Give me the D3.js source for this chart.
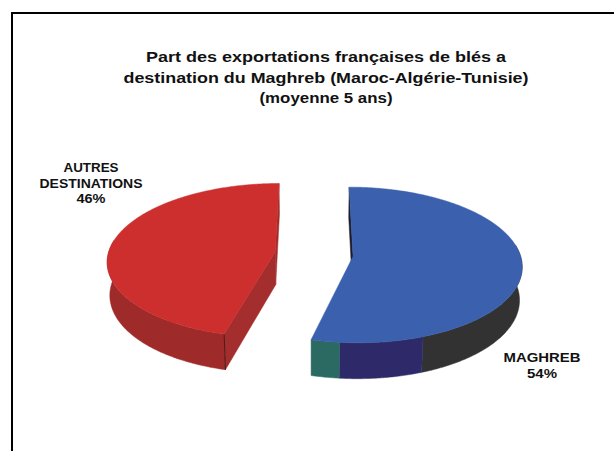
<!DOCTYPE html>
<html lang="fr">
    <head>
        <meta charset="utf-8">
        <title>Part des exportations françaises de blés</title>
        <script type="text/javascript" src="https://cdn.jsdelivr.net/npm/d3@7"></script>
        <style type="text/css">
            body { margin: 0; background: #fff; }
            svg { display: block; }
        </style>
    </head>

    <body>
        <script type="text/javascript">
            // Data
            var categories = ["MAGHREB", "AUTRES DESTINATIONS"];
            var values = [54, 46];
            var labelLines = [["MAGHREB", "54%"], ["AUTRES", "DESTINATIONS", "46%"]];
            var titleLines = [
                "Part des exportations françaises de blés a",
                "destination du Maghreb (Maroc-Algérie-Tunisie)",
                "(moyenne 5 ans)"
            ];

            var w = 614;
            var h = 451;
            var svg = d3.select("body")
                    .append("svg")
                    .attr("width", w)
                    .attr("height", h);

            svg.append("defs").append("filter")
                .attr("id", "soft")
                .append("feGaussianBlur")
                .attr("stdDeviation", 0.6);

            // Frame (clipped at right and bottom in the picture)
            svg.append("path")
                .attr("d", "M12,451V13H614")
                .attr("fill", "none")
                .attr("stroke", "#000")
                .attr("stroke-width", 2);

            // Title
            var titleWidths = [360, 405, 133];
            svg.append("g")
                .selectAll("text")
                .data(titleLines)
                .enter()
                .append("text")
                .attr("x", 326)
                .attr("y", function(d, i) { return 62 + i * 20.5; })
                .attr("text-anchor", "middle")
                .attr("textLength", function(d, i) { return titleWidths[i]; })
                .attr("lengthAdjust", "spacingAndGlyphs")
                .attr("font-family", "Liberation Sans, Arial, sans-serif")
                .attr("font-weight", "bold")
                .attr("font-size", "14px")
                .attr("fill", "#111")
                .text(function(d) { return d; });

            // 3D perspective projection of a disk of radius 1
            var cx = 314, cy = 254, A = 167;
            var tilt = 27.2 * Math.PI / 180;
            var sinT = Math.sin(tilt), cosT = Math.cos(tilt);
            var persp = 0.125;      // radius / camera distance
            var thick = 0.225;      // pie height
            var explode = 0.235;    // slice offset

            function project(X, Z, Y) {
                var wd = 1 + persp * (Z * cosT - Y * sinT);
                return [cx + A * X / wd, cy - A * (Z * sinT + Y * cosT) / wd];
            }

            var pie = d3.pie().sort(null).value(function(d) { return d; });
            var arcs = pie(values);

            var topColors = ["#3a60ad", "#cd2f2f"];
            var faceColors = ["#1e1e2e", "#a42d2d"];
            // side colour bands, as [angle in degrees up to which, colour]
            var sideBands = [
                [[159.5, "#323232"], [185.6, "#2f2c6a"], [360, "#2b6a64"]],
                [[360, "#9f2a2a"]]
            ];

            var line = d3.line();

            function rimPoints(o, a0, a1, Y) {
                var n = Math.max(2, Math.ceil(Math.abs(a1 - a0) / 0.01));
                var pts = [];
                for (var k = 0; k <= n; k++) {
                    var t = a0 + (a1 - a0) * k / n;
                    pts.push(project(o[0] + Math.sin(t), o[1] + Math.cos(t), Y));
                }
                return pts;
            }

            function area2(p) {
                var s = 0;
                for (var i = 0; i < p.length; i++) {
                    var q = p[(i + 1) % p.length];
                    s += p[i][0] * q[1] - q[0] * p[i][1];
                }
                return s;
            }

            var pieG = svg.append("g").attr("filter", "url(#soft)");

            arcs.forEach(function(d, i) {
                var mid = (d.startAngle + d.endAngle) / 2;
                var o = [explode * Math.sin(mid), explode * Math.cos(mid)];
                var g = pieG.append("g").attr("class", "slice");

                // outer side, front half only
                var lo = Math.max(d.startAngle, Math.PI / 2 - 0.15);
                var hi = Math.min(d.endAngle, 3 * Math.PI / 2 + 0.15);
                var prev = lo;
                sideBands[i].forEach(function(b) {
                    var bEnd = Math.min(hi, b[0] * Math.PI / 180);
                    if (bEnd > prev) {
                        var pts = rimPoints(o, prev, bEnd, 0)
                            .concat(rimPoints(o, bEnd, prev, -thick));
                        g.append("path")
                            .attr("d", line(pts) + "Z")
                            .attr("fill", b[1])
                            .attr("stroke", b[1])
                            .attr("stroke-width", 0.5);
                        prev = bEnd;
                    }
                });

                // cut faces (only those facing the viewer)
                [d.startAngle, d.endAngle].forEach(function(t, j) {
                    var rx = o[0] + Math.sin(t), rz = o[1] + Math.cos(t);
                    var face = [
                        project(o[0], o[1], 0),
                        project(rx, rz, 0),
                        project(rx, rz, -thick),
                        project(o[0], o[1], -thick)
                    ];
                    var s = area2(face);
                    if ((j === 0 && s < 0) || (j === 1 && s > 0)) {
                        g.append("path")
                            .attr("d", line(face) + "Z")
                            .attr("fill", faceColors[i])
                            .attr("stroke", faceColors[i])
                            .attr("stroke-width", 0.5);
                        // dark corner edge where the face meets the front side
                        if (Math.cos(t) < 0) {
                            g.append("path")
                                .attr("d", line([face[1], face[2]]))
                                .attr("stroke", "#4a1c1c")
                                .attr("stroke-width", 1);
                        }
                    }
                });

                // top
                var topPts = [project(o[0], o[1], 0)]
                    .concat(rimPoints(o, d.startAngle, d.endAngle, 0));
                g.append("path")
                    .attr("d", line(topPts) + "Z")
                    .attr("fill", topColors[i])
                    .attr("stroke", topColors[i])
                    .attr("stroke-width", 0.5);
            });

            // Data labels
            var labelPos = [[542, 362], [91, 172]];
            var labelWidths = [[77, 30], [55, 103, 29]];
            labelLines.forEach(function(lines, i) {
                svg.append("g")
                    .selectAll("text")
                    .data(lines)
                    .enter()
                    .append("text")
                    .attr("x", labelPos[i][0])
                    .attr("y", function(d, k) { return labelPos[i][1] + k * 15.5; })
                    .attr("text-anchor", "middle")
                    .attr("textLength", function(d, k) { return labelWidths[i][k]; })
                    .attr("lengthAdjust", "spacingAndGlyphs")
                    .attr("font-family", "Liberation Sans, Arial, sans-serif")
                    .attr("font-weight", "bold")
                    .attr("font-size", "13px")
                    .attr("fill", "#111")
                    .text(function(d) { return d; });
            });
        </script>
    </body>
</html>
